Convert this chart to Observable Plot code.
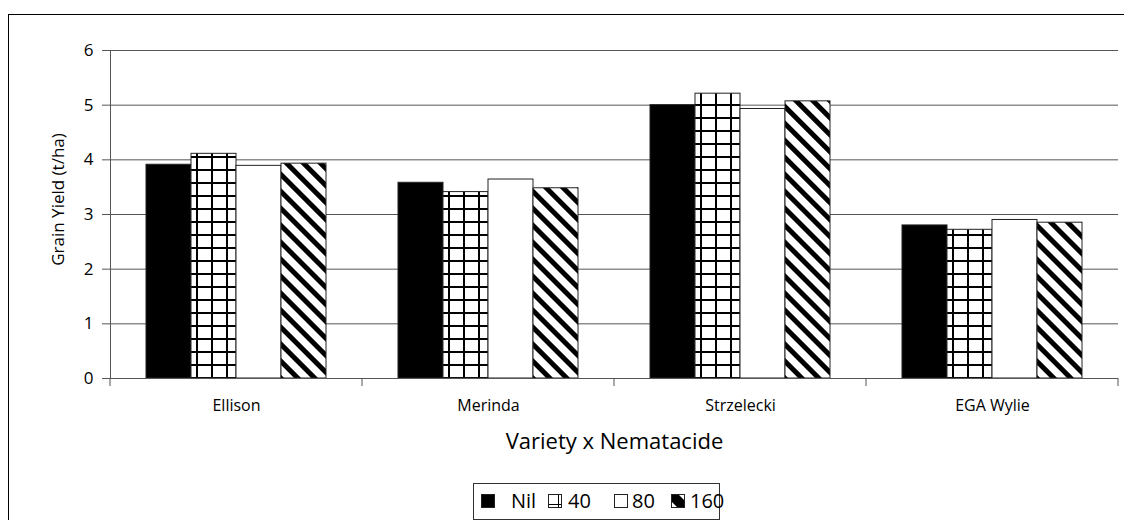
<!DOCTYPE html>
<html><head><meta charset="utf-8">
<script src="https://cdn.jsdelivr.net/npm/d3@7"></script>
<script src="https://cdn.jsdelivr.net/npm/@observablehq/plot@0.6"></script>
<style>
html,body{margin:0;padding:0;background:#fff;overflow:hidden;width:1124px;height:520px;font-family:"Open Sans",Lato,sans-serif;}
#frame{position:absolute;left:8px;top:14px;width:1200px;height:600px;border:1.5px solid #000;box-sizing:border-box;}
#chart{position:absolute;left:0;top:0;}
#legend{position:absolute;left:473px;top:483px;width:247px;height:37px;border:1px solid #333;box-sizing:border-box;background:#fff;font-size:20px;color:#000;}
#legend .icon{position:absolute;top:10px;}
#legend .lab{position:absolute;top:3px;line-height:28px;}
</style></head><body>
<div id="frame"></div>
<div id="chart"></div>
<div id="legend"></div>
<script>
const varieties = ["Ellison", "Merinda", "Strzelecki", "EGA Wylie"];
const series = ["Nil", "40", "80", "160"];
const nil  = [3.91, 3.58, 5.00, 2.80];
const n40  = [4.11, 3.41, 5.21, 2.72];
const n80  = [3.89, 3.64, 4.93, 2.90];
const n160 = [3.93, 3.48, 5.07, 2.85];
const yTicks = [0, 1, 2, 3, 4, 5, 6];
const yLabel = "Grain Yield (t/ha)";
const xLabel = "Variety x Nematacide";

const seriesValues = [nil, n40, n80, n160];
const rows = varieties.flatMap((v, i) => series.map((s, j) => ({variety: v, series: s, value: seriesValues[j][i]})));
const fills = ["#000", "url(#grid40)", "#fff", "url(#hatch160)"];

const plot = Plot.plot({
  width: 1124, height: 470,
  marginLeft: 109, marginRight: 6, marginTop: 50, marginBottom: 92,
  style: {fontFamily: "'Open Sans', Lato, sans-serif", background: "transparent", color: "#000"},
  fx: {domain: varieties, padding: 0},
  x: {domain: series, paddingInner: 0, paddingOuter: 0.74, axis: null},
  y: {domain: [0, 6]},
  color: {type: "ordinal", domain: series, range: fills},
  marks: [
    Plot.gridY(yTicks, {stroke: "#555", strokeOpacity: 1}),
    Plot.barY(rows, {fx: "variety", x: "series", y: "value", fill: "series", stroke: "#222", strokeWidth: 1}),
    Plot.ruleY([0], {stroke: "#555"}),
    Plot.frame({anchor: "left", stroke: "#555", facet: "super"}),
    Plot.axisY(yTicks, {tickSize: 8, tickPadding: 9, fontSize: 17, label: null, stroke: "#555", tickFormat: d => String(d)}),
    Plot.axisFx({anchor: "bottom", tickSize: 0, tickPadding: 21, fontSize: 16, label: null}),
    Plot.text([yLabel], {frameAnchor: "left", textAnchor: "middle", rotate: -90, dx: -52, dy: -15, fontSize: 17, facet: "super"}),
    Plot.text([xLabel], {frameAnchor: "bottom", dy: 70, fontSize: 22, facet: "super"})
  ]
});

const svg = d3.select(plot);
svg.insert("defs", ":first-child").html(`
<pattern id="grid40" patternUnits="userSpaceOnUse" width="15" height="13">
<rect width="15" height="13" fill="#fff"/>
<rect x="0" y="0" width="2" height="13" fill="#000"/>
<rect x="0" y="0" width="15" height="2" fill="#000"/>
</pattern>
<pattern id="hatch160" patternUnits="userSpaceOnUse" width="12" height="12" patternTransform="rotate(-45)">
<rect width="12" height="12" fill="#fff"/>
<rect width="5" height="12" fill="#000"/>
</pattern>
<pattern id="gridIcon" patternUnits="userSpaceOnUse" width="11" height="11">
<rect width="11" height="11" fill="#fff"/>
<rect x="10" y="0" width="1.2" height="11" fill="#000"/>
<rect x="0" y="10" width="11" height="1.2" fill="#000"/>
</pattern>
<pattern id="hatchIcon" patternUnits="userSpaceOnUse" width="14" height="14" patternTransform="rotate(-45)">
<rect width="14" height="14" fill="#000"/>
<rect x="5" width="4" height="14" fill="#fff"/>
</pattern>`);

// category boundary ticks on the x axis, taken from the fx scale
const fx = plot.scale("fx");
const y0 = plot.scale("y").apply(0);
const edges = varieties.map(v => fx.apply(v)).concat([fx.apply(varieties[varieties.length - 1]) + fx.bandwidth]);
svg.append("g").attr("stroke", "#555").selectAll("line").data(edges).join("line")
  .attr("x1", d => d).attr("x2", d => d).attr("y1", y0).attr("y2", y0 + 8);

document.getElementById("chart").appendChild(plot);

// legend
const legendIcons = ["#000", "url(#gridIcon)", "#fff", "url(#hatchIcon)"];
const iconLeft = [7, 74, 140, 197];
const textLeft = [37, 94, 158, 216];
const legend = d3.select("#legend");
series.forEach((s, j) => {
  const sw = legend.append("svg").attr("class", "icon").style("left", iconLeft[j] + "px")
    .attr("width", 15).attr("height", 15);
  sw.append("rect").attr("x", 0.5).attr("y", 0.5).attr("width", 13).attr("height", 13)
    .attr("fill", legendIcons[j]).attr("stroke", "#222");
  legend.append("span").attr("class", "lab").style("left", textLeft[j] + "px").text(s);
});
</script>
</body></html>
